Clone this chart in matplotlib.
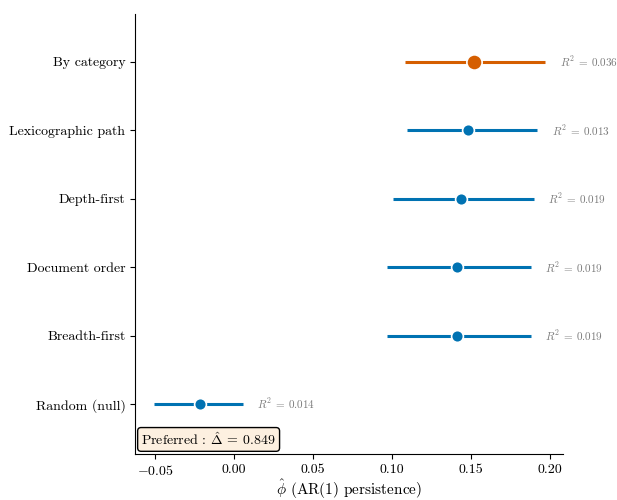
import matplotlib
matplotlib.use("Agg")
import matplotlib.pyplot as plt

plt.rcParams['font.family'] = 'serif'
plt.rcParams['font.serif'] = ['cmr10']
plt.rcParams['mathtext.fontset'] = 'cm'
plt.rcParams['axes.formatter.use_mathtext'] = True

labels = ['Random (null)', 'Breadth-first', 'Document order', 'Depth-first',
          'Lexicographic path', 'By category']
phi = [-0.0215, 0.141, 0.141, 0.1437, 0.148, 0.152]
lo = [-0.0506, 0.097, 0.097, 0.1006, 0.1095, 0.108]
hi = [0.0057, 0.188, 0.188, 0.190, 0.192, 0.197]
r2 = [0.014, 0.019, 0.019, 0.019, 0.013, 0.036]
preferred = 'By category'
delta = 0.849

blue = '#0072B2'
orange = '#D55E00'

fig = plt.figure(figsize=(6.17, 5.0), dpi=100)
ax = fig.add_axes([0.219, 0.092, 0.693, 0.88])

for i, lab in enumerate(labels):
    best = lab == preferred
    c = orange if best else blue
    ax.plot([lo[i], hi[i]], [i, i], color=c, lw=2.2, solid_capstyle='butt', zorder=2)
    ax.plot(phi[i], i, 'o', color=c, ms=11 if best else 8.5,
            mec='white', mew=1.2, zorder=3)
    ax.text(hi[i] + 0.009, i, r'$R^2\:=\:%.3f$' % r2[i], color='#7a7a7a',
            fontsize=8, va='center', ha='left')

ax.set_yticks(range(len(labels)))
ax.set_yticklabels(labels, fontsize=10)
ax.set_xticks([-0.05, 0.0, 0.05, 0.10, 0.15, 0.20])
ax.set_xticklabels(['$-0.05$', '0.00', '0.05', '0.10', '0.15', '0.20'], fontsize=10)
ax.set_xlim(-0.0627, 0.208)
ax.set_ylim(-0.73, 5.7)
ax.set_xlabel(r'$\hat{\phi}$ (AR(1) persistence)', fontsize=11, labelpad=0)
ax.spines['top'].set_visible(False)
ax.spines['right'].set_visible(False)

ax.text(0.014, 0.014, r'Preferred : $\hat{\Delta}\:=\:%.3f$' % delta,
        transform=ax.transAxes, fontsize=10, ha='left', va='bottom',
        bbox=dict(boxstyle='round,pad=0.25', fc='#fdf0e0', ec='black', lw=1))

fig.savefig('out.png', dpi=100)
